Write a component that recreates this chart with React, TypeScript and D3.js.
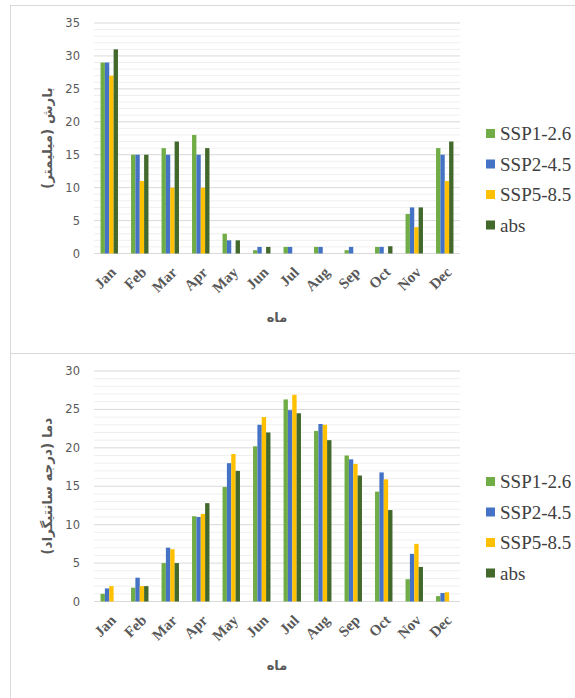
import * as React from "react";
import { scaleBand, scaleLinear, range } from "d3";

const months = ["Jan", "Feb", "Mar", "Apr", "May", "Jun", "Jul", "Aug", "Sep", "Oct", "Nov", "Dec"];
const seriesNames = ["SSP1-2.6", "SSP2-4.5", "SSP5-8.5", "abs"];
const seriesColors = ["#70ad47", "#4472c4", "#ffc000", "#43682b"];

// precipitation (mm)
const rainSsp126 = [29, 15, 16, 18, 3, 0.5, 1, 1, 0.5, 1, 6, 16];
const rainSsp245 = [29, 15, 15, 15, 2, 1, 1, 1, 1, 1, 7, 15];
const rainSsp585 = [27, 11, 10, 10, 0, 0, 0, 0, 0, 0, 4, 11];
const rainAbs = [31, 15, 17, 16, 2, 1, 0, 0, 0, 1.1, 7, 17];

// temperature (C)
const tempSsp126 = [1.0, 1.8, 5.0, 11.1, 14.9, 20.2, 26.3, 22.2, 19.0, 14.3, 2.9, 0.7];
const tempSsp245 = [1.7, 3.1, 7.0, 11.0, 18.0, 23.0, 24.9, 23.1, 18.5, 16.8, 6.2, 1.1];
const tempSsp585 = [2.0, 2.0, 6.8, 11.4, 19.2, 24.0, 26.9, 23.0, 17.9, 15.9, 7.5, 1.2];
const tempAbs = [0, 2.0, 5.0, 12.8, 17.0, 22.0, 24.5, 21.0, 16.4, 11.9, 4.5, 0];

const rainTicks = [0, 5, 10, 15, 20, 25, 30, 35];
const tempTicks = [0, 5, 10, 15, 20, 25, 30];

const sansFont = "DejaVu Sans, sans-serif";
const serifFont = "Times New Roman, Liberation Serif, DejaVu Serif, serif";

type PanelProps = {
  top: number;
  ticks: number[];
  series: number[][];
  yTitle: string;
};

function Panel({ top, ticks, series, yTitle }: PanelProps) {
  const left = 94;
  const right = 460;
  const plotTop = top + 18;
  const plotBottom = top + 248.5;
  const yMax = ticks[ticks.length - 1];

  const x0 = scaleBand<string>().domain(months).range([left, right]);
  const x1 = scaleBand<string>()
    .domain(seriesNames)
    .range([0, x0.bandwidth()])
    .paddingOuter(1.5);
  const y = scaleLinear().domain([0, yMax]).range([plotBottom, plotTop]);
  const minor = range(0, yMax + 1, 1).filter((v) => v % 5 !== 0);

  return (
    <g>
      <rect x={10.5} y={top + 0.5} width={570} height={348} fill="#fff" stroke="#d9d9d9" />
      {minor.map((v) => (
        <line key={"m" + v} x1={left} x2={right} y1={y(v)} y2={y(v)} stroke="#efefef" />
      ))}
      {ticks.map((v) => (
        <g key={v}>
          <line x1={left} x2={right} y1={y(v)} y2={y(v)} stroke="#d9d9d9" />
          <text
            x={80}
            y={y(v)}
            dy="0.35em"
            textAnchor="end"
            fontFamily={sansFont}
            fontSize={11.5}
            fill="#595959"
          >
            {v}
          </text>
        </g>
      ))}
      {months.map((m, i) => (
        <g key={m}>
          {series.map((vals, s) => (
            <rect
              key={s}
              x={(x0(m) as number) + (x1(seriesNames[s]) as number)}
              y={y(vals[i])}
              width={x1.bandwidth()}
              height={plotBottom - y(vals[i])}
              fill={seriesColors[s]}
            />
          ))}
          <text
            transform={`translate(${(x0(m) as number) + x0.bandwidth() / 2 + 4},${plotBottom + 16}) rotate(-45)`}
            textAnchor="end"
            dy="0.35em"
            fontFamily={serifFont}
            fontWeight="bold"
            fontSize={15}
            fill="#595959"
          >
            {m}
          </text>
        </g>
      ))}
      <text
        x={(left + right) / 2}
        y={top + 317}
        textAnchor="middle"
        fontFamily={sansFont}
        fontWeight="bold"
        fontSize={13}
        fill="#595959"
      >
        ماه
      </text>
      <text
        transform={`translate(47,${(plotTop + plotBottom) / 2}) rotate(-90)`}
        textAnchor="middle"
        dy="0.35em"
        fontFamily={sansFont}
        fontWeight="bold"
        fontSize={13.5}
        fill="#595959"
      >
        {yTitle}
      </text>
      {seriesNames.map((name, s) => (
        <g key={name} transform={`translate(486,${top + 128.5 + s * 30.5})`}>
          <rect x={0} y={-4.5} width={9} height={9} fill={seriesColors[s]} />
          <text x={14} dy="0.35em" fontFamily={serifFont} fontSize={19} fill="#404040">
            {name}
          </text>
        </g>
      ))}
    </g>
  );
}

export default function App() {
  return (
    <svg
      width={575}
      height={698}
      style={{ position: "absolute", left: 0, top: 0, background: "#fff" }}
    >
      <Panel
        top={5}
        ticks={rainTicks}
        series={[rainSsp126, rainSsp245, rainSsp585, rainAbs]}
        yTitle="بارش (میلیمتر)"
      />
      <Panel
        top={353}
        ticks={tempTicks}
        series={[tempSsp126, tempSsp245, tempSsp585, tempAbs]}
        yTitle="دما (درجه سانتیگراد)"
      />
    </svg>
  );
}
